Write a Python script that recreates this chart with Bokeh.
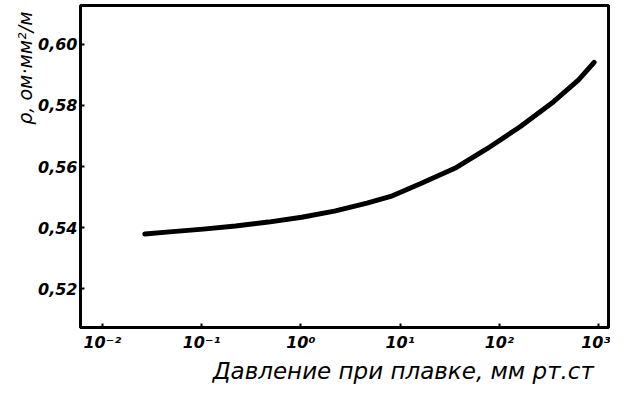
from bokeh.plotting import figure
from bokeh.models import FixedTicker, Range1d, Title
from bokeh.embed import file_html
from bokeh.resources import INLINE

# data
pressure = [0.0268, 0.0475, 0.1035, 0.220, 0.470, 1.02, 2.18, 4.64, 8.04,
            16.4, 35.6, 76.0, 162.0, 352.0, 625.0, 902.0]
resistivity = [0.5379, 0.5386, 0.5395, 0.5405, 0.5418, 0.5434, 0.5454, 0.5480, 0.5502,
               0.5545, 0.5594, 0.5659, 0.5730, 0.5812, 0.5883, 0.5941]

x_ticks = [0.01, 0.1, 1.0, 10.0, 100.0, 1000.0]
x_tick_labels = ["10⁻²", "10⁻¹", "10⁰", "10¹", "10²", "10³"]
y_ticks = [0.52, 0.54, 0.56, 0.58, 0.60]
y_tick_labels = ["0,52", "0,54", "0,56", "0,58", "0,60"]

x_title = "Давление при плавке,  мм  рт.ст"
y_title = "ρ,  ом·мм²/м"

FONT = "DejaVu Sans"

p = figure(width=610, height=384, x_axis_type="log",
           x_range=Range1d(10 ** -2.22, 10 ** 3.1),
           y_range=Range1d(0.5073, 0.6127),
           output_backend="svg", toolbar_location=None,
           min_border_left=80, min_border_right=2,
           min_border_top=5, min_border_bottom=57)

p.line(pressure, resistivity, line_color="black", line_width=5,
       line_cap="round", line_join="round")

p.xgrid.visible = False
p.ygrid.visible = False
p.outline_line_color = "black"
p.outline_line_width = 3
p.outline_line_alpha = 1

for ax in (p.xaxis[0], p.yaxis[0]):
    ax.axis_line_width = 3
    ax.axis_line_color = "black"
    ax.major_tick_in = 4
    ax.major_tick_out = 0
    ax.major_tick_line_width = 2
    ax.minor_tick_line_color = None
    ax.major_label_text_font = FONT
    ax.major_label_text_font_style = "bold italic"
    ax.major_label_text_font_size = "16px"
    ax.major_label_text_color = "black"

p.xaxis[0].ticker = FixedTicker(ticks=x_ticks)
p.xaxis[0].major_label_overrides = dict(zip(x_ticks, x_tick_labels))
p.xaxis[0].major_label_standoff = 5
p.yaxis[0].ticker = FixedTicker(ticks=y_ticks)
p.yaxis[0].major_label_overrides = dict(zip(y_ticks, y_tick_labels))
p.yaxis[0].major_label_standoff = 3

p.add_layout(Title(text=x_title, align="right", text_font=FONT,
                   text_font_style="italic", text_font_size="23px",
                   text_color="black", standoff=2), "below")
p.add_layout(Title(text=y_title, align="right", text_font=FONT,
                   text_font_style="italic", text_font_size="19px",
                   text_color="black", standoff=0), "left")

open("out.html", "w").write(file_html(p, INLINE))
